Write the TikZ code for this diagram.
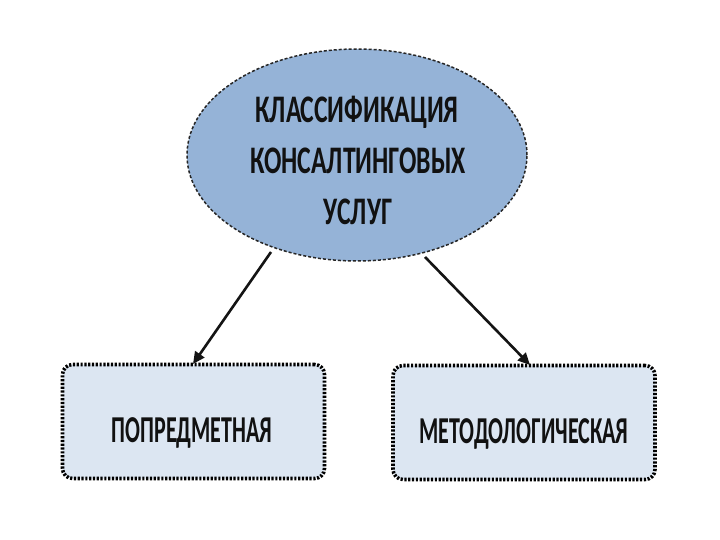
\documentclass[tikz,border=0pt]{standalone}
\usepackage{fontspec}
\setmainfont{Carlito}
\usetikzlibrary{shapes.geometric,arrows.meta}
\definecolor{ellfill}{HTML}{95B3D7}
\definecolor{boxfill}{HTML}{DCE6F2}
\definecolor{txt}{HTML}{111111}
\tikzset{
  mainell/.style={ellipse, draw=black!85, dash pattern=on 3pt off 2pt, line width=1.5pt, fill=ellfill, minimum width=340pt, minimum height=212pt, inner sep=0pt},
  leafbox/.style={rectangle, rounded corners=10pt, draw=black, line width=3.6pt, dash pattern=on 2.2pt off 1.6pt, fill=boxfill, minimum width=262pt, minimum height=114pt},
  conn/.style={line width=2.6pt, draw=black!92, -{Triangle[length=12pt,width=11pt]}},
  ttext/.style={font=\bfseries\fontsize{39}{39}\selectfont, text=txt, anchor=base, inner sep=0pt},
  btext/.style={font=\bfseries\fontsize{38}{38}\selectfont, text=txt, anchor=base, inner sep=0pt}
}
\begin{document}
\begin{tikzpicture}[x=1pt,y=-1pt]
\useasboundingbox (0,0) rectangle (720,540);
\fill[white] (0,0) rectangle (720,540);
\node[mainell] (main) at (357,155) {};
\node[ttext] (t1) at (357,123) {\scalebox{0.66}[1]{КЛАССИФИКАЦИЯ}};
\node[ttext] (t2) at (358,174) {\scalebox{0.66}[1]{КОНСАЛТИНГОВЫХ}};
\node[ttext] (t3) at (358,225) {\scalebox{0.66}[1]{УСЛУГ}};
\node[leafbox] (left) at (193.5,421.5) {};
\node[leafbox] (right) at (524,422.5) {};
\node[btext] (l1) at (192,442) {\scalebox{0.58}[1]{ПОПРЕДМЕТНАЯ}};
\node[btext] (r1) at (524,443) {\scalebox{0.58}[1]{МЕТОДОЛОГИЧЕСКАЯ}};
\coordinate (ls) at (271,252);
\coordinate (le) at (193,364);
\coordinate (rs) at (425,257);
\coordinate (re) at (530,365);
\draw[conn] (ls) -- (le);
\draw[conn] (rs) -- (re);
\end{tikzpicture}
\end{document}
